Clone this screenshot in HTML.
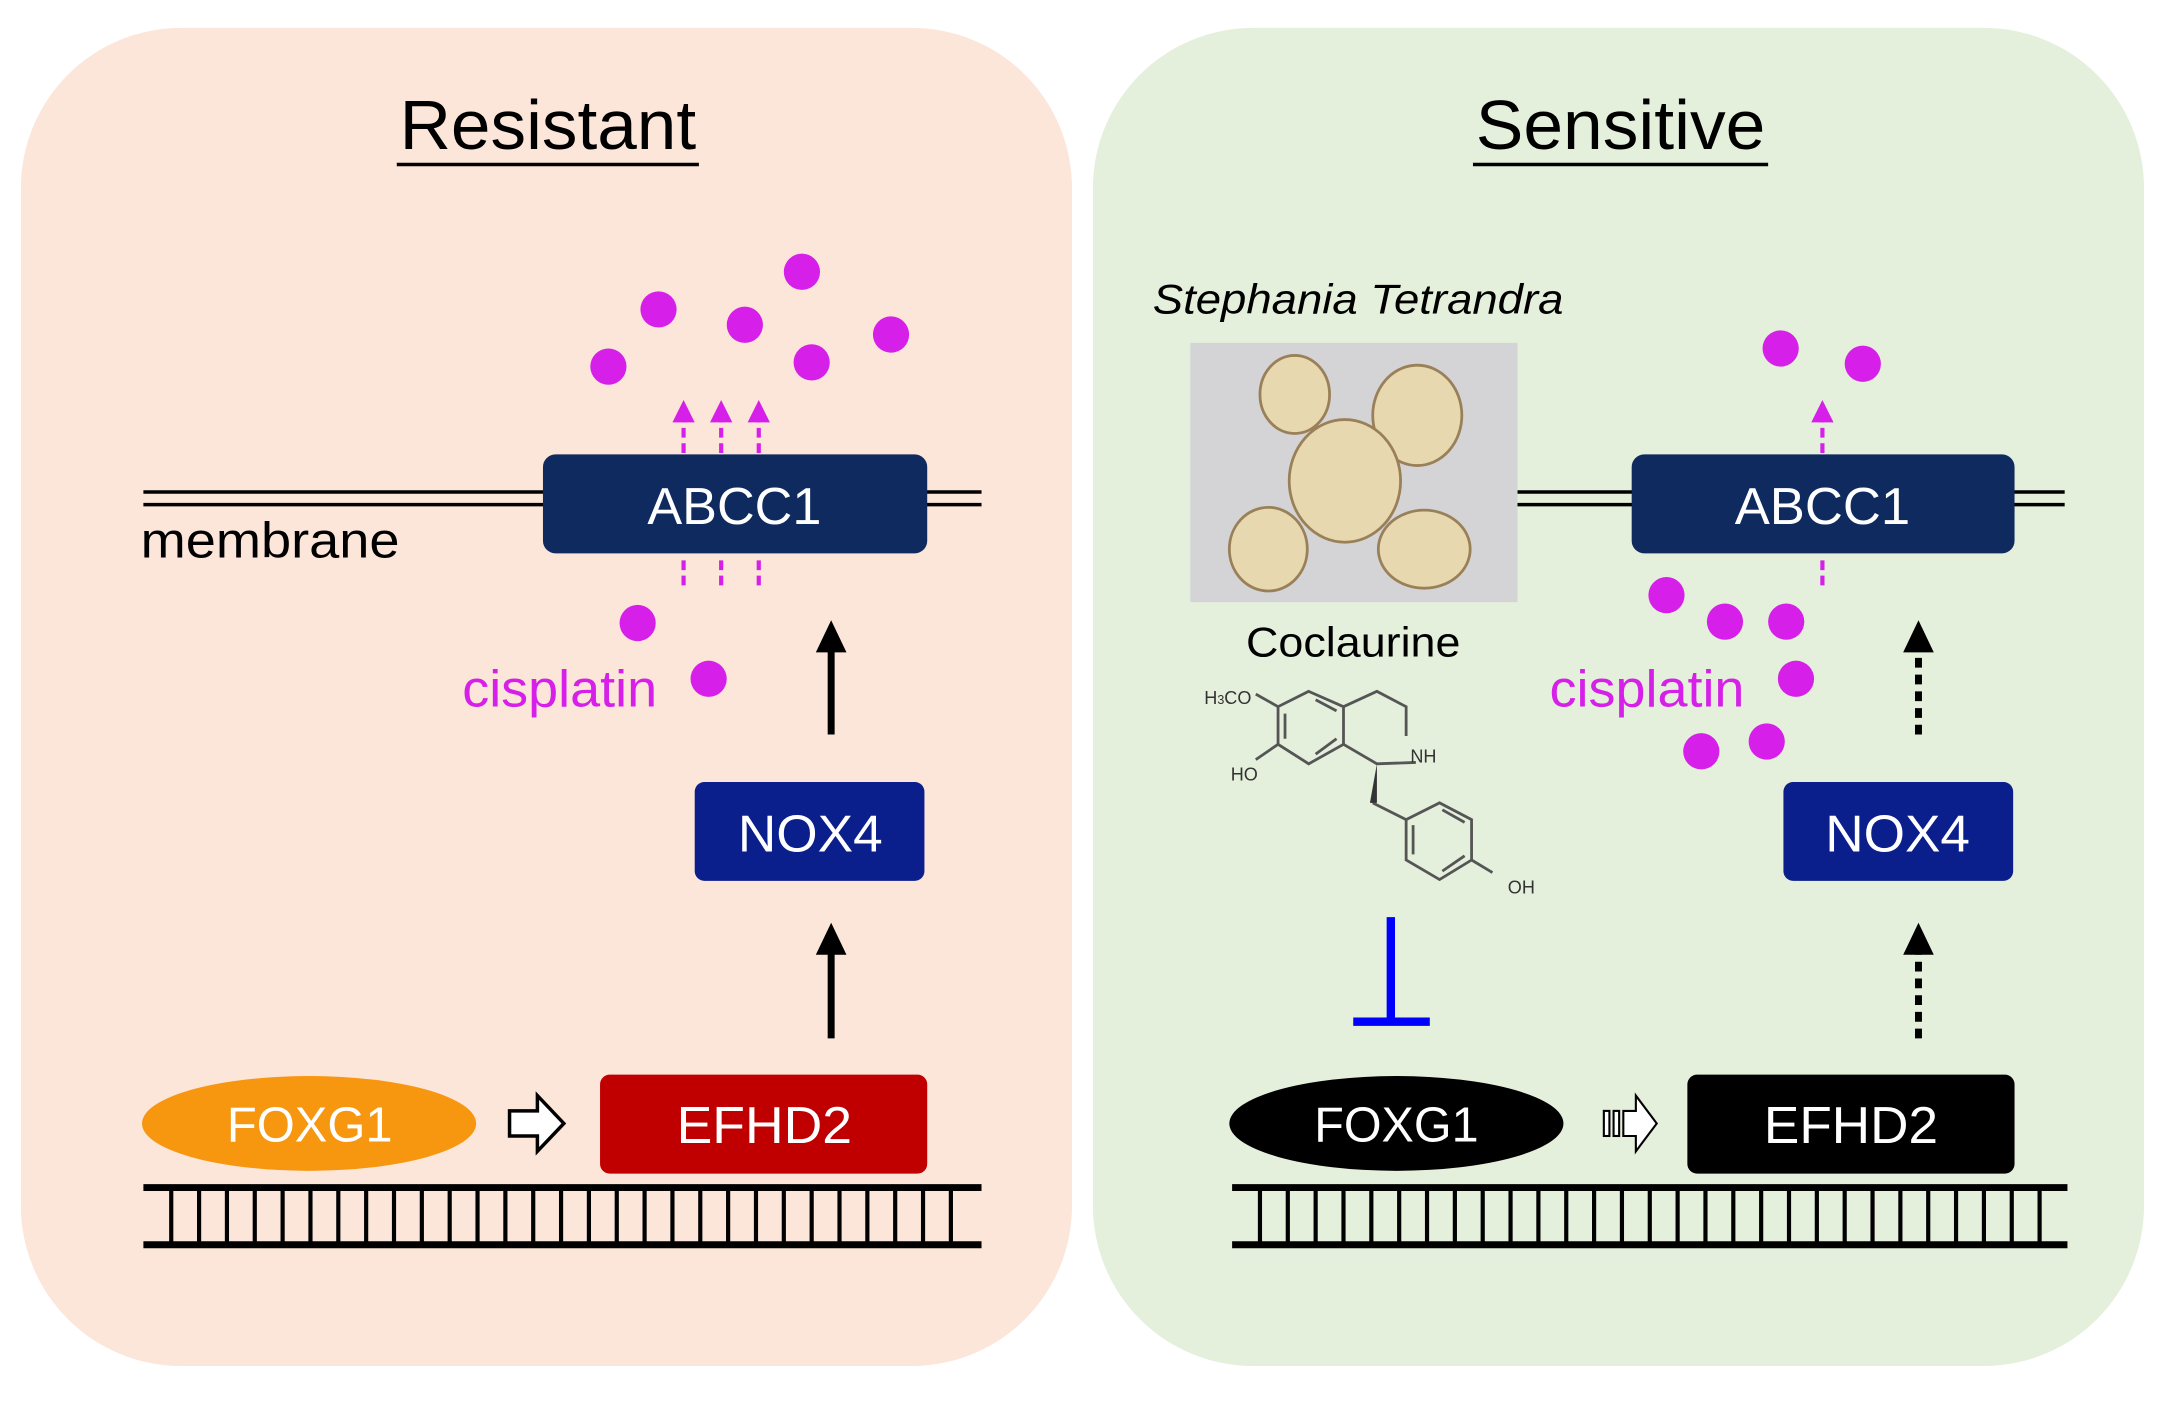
<!DOCTYPE html>
<html><head><meta charset="utf-8"><style>html,body{margin:0;padding:0;background:#fff}svg{display:block}</style></head>
<body>
<svg width="2183" height="1405" viewBox="0 0 1568 1008" preserveAspectRatio="none" xmlns="http://www.w3.org/2000/svg" font-family="Liberation Sans, sans-serif">
<rect x="15" y="20" width="755" height="960" rx="115" fill="#fce5d9"/>
<rect x="785" y="20" width="755" height="960" rx="115" fill="#e4efdc"/>
<text x="287" y="107" font-size="50" textLength="213" lengthAdjust="spacingAndGlyphs">Resistant</text>
<line x1="285" y1="118" x2="502" y2="118" stroke="#000" stroke-width="2.5"/>
<text x="1060" y="107" font-size="50" textLength="208" lengthAdjust="spacingAndGlyphs">Sensitive</text>
<line x1="1058" y1="118" x2="1270" y2="118" stroke="#000" stroke-width="2.5"/>

<!-- LEFT -->
<g stroke="#000" stroke-width="2.5"><line x1="103" y1="353" x2="705" y2="353"/><line x1="103" y1="362" x2="705" y2="362"/></g>
<rect x="390" y="326" width="276" height="71" rx="9" fill="#0e2a5f"/>
<text x="465" y="376" font-size="37" fill="#fff" textLength="125" lengthAdjust="spacingAndGlyphs">ABCC1</text>
<text x="101" y="400" font-size="36" textLength="186" lengthAdjust="spacingAndGlyphs">membrane</text>
<g fill="#d61fe8"><circle cx="437" cy="263" r="13"/><circle cx="473" cy="222" r="13"/><circle cx="535" cy="233" r="13"/><circle cx="576" cy="195" r="13"/><circle cx="583" cy="260" r="13"/><circle cx="640" cy="240" r="13"/><circle cx="458" cy="447" r="13"/><circle cx="509" cy="487" r="13"/></g>
<g stroke="#d61fe8" stroke-width="3" stroke-dasharray="7,4">
<line x1="491" y1="325" x2="491" y2="300"/><line x1="518" y1="325" x2="518" y2="300"/><line x1="545" y1="325" x2="545" y2="300"/>
<line x1="491" y1="420" x2="491" y2="398"/><line x1="518" y1="420" x2="518" y2="398"/><line x1="545" y1="420" x2="545" y2="398"/>
</g>
<g fill="#d61fe8"><path d="M483,303 L491,287 L499,303z"/><path d="M510,303 L518,287 L526,303z"/><path d="M537,303 L545,287 L553,303z"/></g>
<text x="332" y="507" font-size="37" fill="#d61fe8" textLength="140" lengthAdjust="spacingAndGlyphs">cisplatin</text>
<line x1="597" y1="527" x2="597" y2="465" stroke="#000" stroke-width="5"/><path d="M586,468 L597,445 L608,468z"/>
<rect x="499" y="561" width="165" height="71" rx="7" fill="#0a1e8c"/>
<text x="530" y="611" font-size="37" fill="#fff" textLength="104" lengthAdjust="spacingAndGlyphs">NOX4</text>
<line x1="597" y1="745" x2="597" y2="682" stroke="#000" stroke-width="5"/><path d="M586,685 L597,662 L608,685z"/>
<ellipse cx="222" cy="806" rx="120" ry="34" fill="#f7960f"/>
<text x="163" y="819" font-size="35" fill="#fff" textLength="119" lengthAdjust="spacingAndGlyphs">FOXG1</text>
<path d="M366,797 L386,797 L386,786 L405,806 L386,826 L386,815 L366,815z" fill="#fff" stroke="#000" stroke-width="2.5"/>
<rect x="431" y="771" width="235" height="71" rx="7" fill="#c00000"/>
<text x="486" y="820" font-size="37" fill="#fff" textLength="126" lengthAdjust="spacingAndGlyphs">EFHD2</text>
<g stroke="#000"><line x1="103" y1="852" x2="705" y2="852" stroke-width="5"/><line x1="103" y1="893" x2="705" y2="893" stroke-width="5"/>
<path d="M123,852V893M143,852V893M163,852V893M183,852V893M203,852V893M223,852V893M243,852V893M263,852V893M283,852V893M303,852V893M323,852V893M343,852V893M363,852V893M383,852V893M403,852V893M423,852V893M443,852V893M463,852V893M483,852V893M503,852V893M523,852V893M543,852V893M563,852V893M583,852V893M603,852V893M623,852V893M643,852V893M663,852V893M683,852V893" stroke-width="3"/></g>

<!-- RIGHT -->
<text x="828" y="225" font-size="30" font-style="italic" textLength="295" lengthAdjust="spacingAndGlyphs">Stephania Tetrandra</text>
<rect x="855" y="246" width="235" height="186" fill="#d4d4d6"/>
<g fill="#e8d8b0" stroke="#9a8058" stroke-width="2">
<ellipse cx="930" cy="283" rx="25" ry="28"/><ellipse cx="1018" cy="298" rx="32" ry="36"/><ellipse cx="966" cy="345" rx="40" ry="44"/><ellipse cx="911" cy="394" rx="28" ry="30"/><ellipse cx="1023" cy="394" rx="33" ry="28"/>
</g>
<text x="895" y="471" font-size="30" textLength="154" lengthAdjust="spacingAndGlyphs">Coclaurine</text>
<g stroke="#555" stroke-width="2" fill="none">
<path d="M940,496 L965,507 L965,534 L940,548 L918,534 L918,507z"/>
<path d="M945,502 L960,510 M960,530 L945,541 M923,512 L923,530"/>
<path d="M965,507 L989,496 L1010,507 L1010,528 M1017,547 L989,548 L965,534"/>
<path d="M1010,588 L1034,576 L1057,588 L1057,617 L1034,631 L1010,617z"/>
<path d="M1015,592 L1015,613 M1036,581 L1052,590 M1052,614 L1036,625"/>
<path d="M1057,617 L1072,626 M986,576 L1010,588 M918,507 L902,498 M918,534 L902,545"/>
</g>
<path d="M989,548 L984,576 L989,576z" fill="#333"/>
<g font-size="13" fill="#333"><text x="865" y="505">H<tspan font-size="9">3</tspan>CO</text><text x="884" y="560">HO</text><text x="1013" y="547">NH</text><text x="1083" y="641">OH</text></g>
<line x1="999" y1="658" x2="999" y2="733" stroke="#0000ff" stroke-width="6"/>
<line x1="972" y1="733" x2="1027" y2="733" stroke="#0000ff" stroke-width="6"/>

<g stroke="#000" stroke-width="2.5"><line x1="1090" y1="353" x2="1483" y2="353"/><line x1="1090" y1="362" x2="1483" y2="362"/></g>
<rect x="1172" y="326" width="275" height="71" rx="9" fill="#0e2a5f"/>
<text x="1246" y="376" font-size="37" fill="#fff" textLength="126" lengthAdjust="spacingAndGlyphs">ABCC1</text>
<g fill="#d61fe8"><circle cx="1279" cy="250" r="13"/><circle cx="1338" cy="261" r="13"/><circle cx="1197" cy="427" r="13"/><circle cx="1239" cy="446" r="13"/><circle cx="1283" cy="446" r="13"/><circle cx="1290" cy="487" r="13"/><circle cx="1222" cy="539" r="13"/><circle cx="1269" cy="532" r="13"/></g>
<g stroke="#d61fe8" stroke-width="3" stroke-dasharray="7,4"><line x1="1309" y1="325" x2="1309" y2="300"/><line x1="1309" y1="420" x2="1309" y2="398"/></g>
<path d="M1301,303 L1309,287 L1317,303z" fill="#d61fe8"/>
<text x="1113" y="507" font-size="37" fill="#d61fe8" textLength="140" lengthAdjust="spacingAndGlyphs">cisplatin</text>
<line x1="1378" y1="527" x2="1378" y2="467" stroke="#000" stroke-width="5" stroke-dasharray="7,5"/><path d="M1367,468 L1378,445 L1389,468z"/>
<rect x="1281" y="561" width="165" height="71" rx="7" fill="#0a1e8c"/>
<text x="1311" y="611" font-size="37" fill="#fff" textLength="104" lengthAdjust="spacingAndGlyphs">NOX4</text>
<line x1="1378" y1="745" x2="1378" y2="684" stroke="#000" stroke-width="5" stroke-dasharray="7,5"/><path d="M1367,685 L1378,662 L1389,685z"/>
<ellipse cx="1003" cy="806" rx="120" ry="34" fill="#000"/>
<text x="944" y="819" font-size="35" fill="#fff" textLength="118" lengthAdjust="spacingAndGlyphs">FOXG1</text>
<g stroke="#000" stroke-width="1.5" fill="#fff"><rect x="1152" y="797" width="4" height="18"/><rect x="1159" y="797" width="4" height="18"/><path d="M1166,797 L1175,797 L1175,786 L1190,806 L1175,826 L1175,815 L1166,815z"/></g>
<rect x="1212" y="771" width="235" height="71" rx="7" fill="#000"/>
<text x="1267" y="820" font-size="37" fill="#fff" textLength="125" lengthAdjust="spacingAndGlyphs">EFHD2</text>
<g stroke="#000"><line x1="885" y1="852" x2="1485" y2="852" stroke-width="5"/><line x1="885" y1="893" x2="1485" y2="893" stroke-width="5"/>
<path d="M905,852V893M925,852V893M945,852V893M965,852V893M985,852V893M1005,852V893M1025,852V893M1045,852V893M1065,852V893M1085,852V893M1105,852V893M1125,852V893M1145,852V893M1165,852V893M1185,852V893M1205,852V893M1225,852V893M1245,852V893M1265,852V893M1285,852V893M1305,852V893M1325,852V893M1345,852V893M1365,852V893M1385,852V893M1405,852V893M1425,852V893M1445,852V893M1465,852V893" stroke-width="3"/></g>
</svg>
</body></html>
